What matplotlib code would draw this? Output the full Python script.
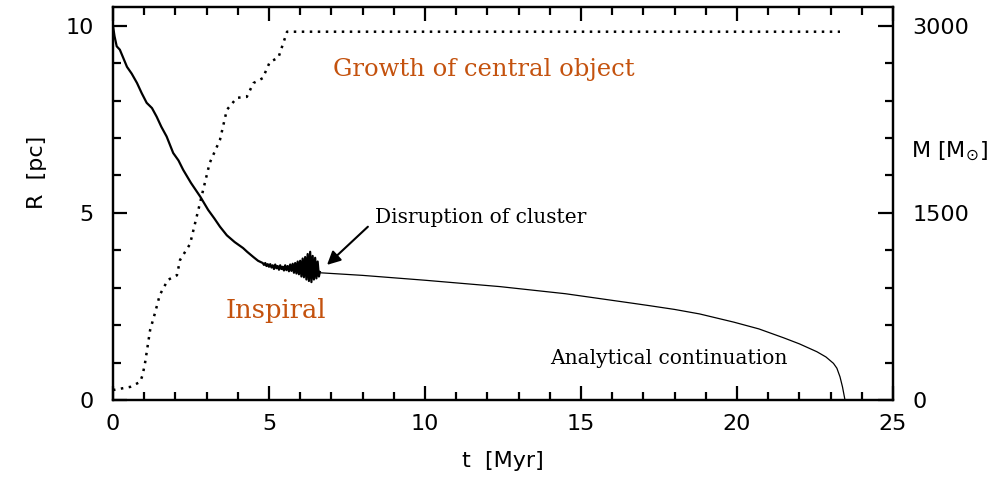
import matplotlib
matplotlib.use('Agg')
import matplotlib.pyplot as plt
from matplotlib.ticker import MultipleLocator

# N-body run: cluster orbital radius R [pc] vs time t [Myr]
t_sim = [0.0, 0.05, 0.12, 0.22, 0.3, 0.45, 0.6, 0.77, 0.92, 1.08, 1.25, 1.4,
         1.55, 1.72, 1.93, 2.1, 2.25, 2.5, 2.8, 3.05, 3.25, 3.43, 3.65, 3.9,
         4.17, 4.3, 4.5, 4.65,
         4.80, 4.84, 4.88, 4.92, 4.96, 5.00, 5.04, 5.08, 5.12, 5.16, 5.20,
         5.24, 5.28, 5.32, 5.36, 5.40, 5.44, 5.48, 5.52, 5.56, 5.60, 5.64,
         5.68, 5.72, 5.76, 5.80, 5.84, 5.88, 5.92, 5.96, 6.00, 6.04, 6.08,
         6.12, 6.16, 6.20, 6.24, 6.28, 6.32, 6.36, 6.40, 6.44, 6.48, 6.52,
         6.56, 6.60, 6.63]
r_sim = [10.0, 9.72, 9.45, 9.36, 9.2, 8.9, 8.72, 8.47, 8.2, 7.94, 7.8, 7.57,
         7.3, 7.04, 6.6, 6.4, 6.15, 5.8, 5.43, 5.08, 4.85, 4.63, 4.4, 4.22,
         4.06, 3.96, 3.82, 3.72,
         3.66, 3.61, 3.66, 3.58, 3.63, 3.56, 3.63, 3.54, 3.60, 3.50, 3.62,
         3.52, 3.58, 3.48, 3.60, 3.50, 3.56, 3.46, 3.60, 3.47, 3.58, 3.44,
         3.62, 3.45, 3.64, 3.40, 3.66, 3.38, 3.70, 3.36, 3.72, 3.30, 3.78,
         3.28, 3.82, 3.22, 3.90, 3.18, 3.96, 3.15, 3.85, 3.22, 3.80, 3.25,
         3.70, 3.30, 3.42]

# analytical continuation after disruption
t_an = [6.63, 8.0, 10.0, 12.4, 14.5, 16.7, 17.2, 18.0, 18.8, 19.9, 20.7,
        21.5, 22.0, 22.56, 22.85, 23.09, 23.2, 23.3, 23.38, 23.46]
r_an = [3.40, 3.33, 3.20, 3.03, 2.84, 2.58, 2.52, 2.42, 2.30, 2.08, 1.90,
        1.66, 1.50, 1.29, 1.15, 0.98, 0.85, 0.62, 0.35, 0.0]

# mass of the central object [Msun]
t_mass = [0.0, 0.55, 0.87, 0.95, 1.03, 1.19, 1.35, 1.5, 1.76, 2.05, 2.15,
          2.47, 2.79, 3.1, 3.43, 3.65, 3.97, 4.29, 4.5, 4.8, 5.03, 5.3,
          5.58, 23.3]
m_mass = [80, 105, 145, 200, 300, 560, 700, 842, 963, 1000, 1123,
          1250, 1580, 1900, 2086, 2326, 2422, 2430, 2540, 2580, 2711, 2743,
          2952, 2952]

orange = '#c4520e'
r_top = 10.5
m_per_pc = 300.0

fig = plt.figure(figsize=(10.05, 4.93), dpi=100)
ax = fig.add_axes([0.1124, 0.1886, 0.7762, 0.7972])
ax2 = ax.twinx()

ax.plot(t_sim, r_sim, color='black', lw=1.6)
ax.plot(t_an, r_an, color='black', lw=0.9)
ax2.plot(t_mass, m_mass, color='black', lw=1.8, linestyle=(0, (1, 2.2)))

ax.set_xlim(0, 25)
ax.set_ylim(0, r_top)
ax2.set_ylim(0, r_top * m_per_pc)

ax.xaxis.set_major_locator(MultipleLocator(5))
ax.xaxis.set_minor_locator(MultipleLocator(1))
ax.yaxis.set_major_locator(MultipleLocator(5))
ax.yaxis.set_minor_locator(MultipleLocator(1))
ax2.yaxis.set_major_locator(MultipleLocator(1500))
ax2.yaxis.set_minor_locator(MultipleLocator(300))

ax.tick_params(axis='x', which='both', direction='in', top=True, width=1.6,
               labelsize=16, pad=10)
ax.tick_params(axis='y', which='both', direction='in', right=False, width=1.6,
               labelsize=16, pad=14)
ax.tick_params(which='major', length=10)
ax.tick_params(which='minor', length=5.5)
ax2.tick_params(axis='y', which='both', direction='in', width=1.6,
                labelsize=16, pad=14)
ax2.tick_params(which='major', length=11)
ax2.tick_params(which='minor', length=6)

for a in (ax, ax2):
    for s in a.spines.values():
        s.set_linewidth(1.6)

ax.set_xlabel('t  [Myr]', fontsize=16, labelpad=12)
ax.set_ylabel('R  [pc]', fontsize=16)
ax.yaxis.set_label_coords(-0.085, 0.58)
ax2.set_ylabel(r'M [M$_{\odot}$]', fontsize=16, rotation=0)
ax2.yaxis.set_label_coords(1.072, 0.662)

serif = 'DejaVu Serif'
ax.text(11.9, 8.82, 'Growth of central object', color=orange, fontsize=17.5,
        family=serif, ha='center', va='center')
ax.text(5.22, 2.38, 'Inspiral', color=orange, fontsize=18.5, family=serif,
        ha='center', va='center')
ax.text(17.8, 1.12, 'Analytical continuation', color='black', fontsize=14.5,
        family=serif, ha='center', va='center')
ax.text(8.4, 4.87, 'Disruption of cluster', color='black', fontsize=14.5,
        family=serif, ha='left', va='center')
ax.annotate('', xy=(6.86, 3.61), xytext=(8.17, 4.63),
            arrowprops=dict(arrowstyle='-|>', color='black', lw=1.5,
                            mutation_scale=20, shrinkA=0, shrinkB=0))

fig.savefig('out.png', dpi=100)
